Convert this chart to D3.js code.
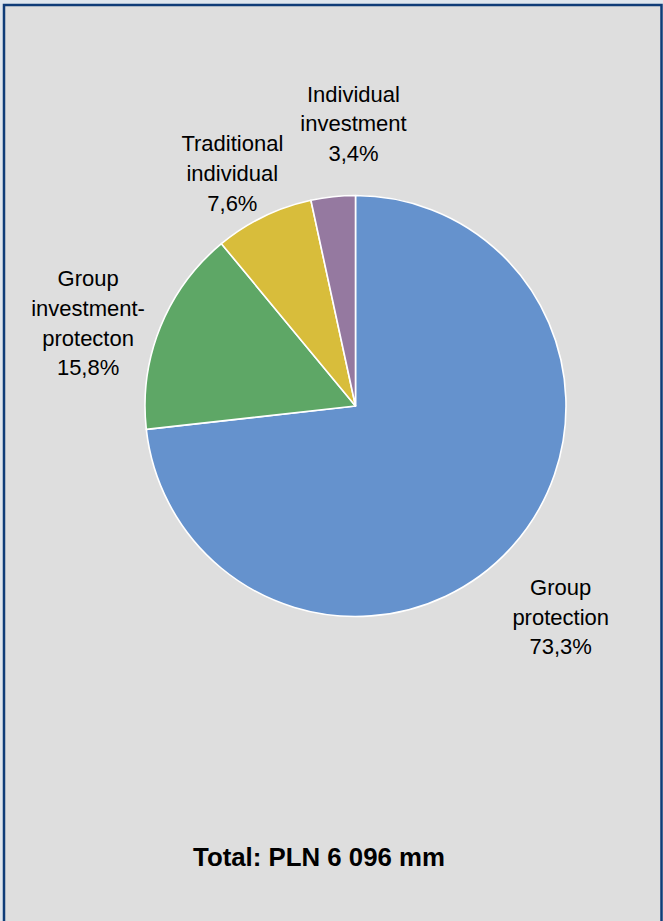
<!DOCTYPE html>
<html>
<head>
<meta charset="utf-8">
<script src="https://cdn.jsdelivr.net/npm/d3@7"></script>
<style>
  html, body { margin: 0; padding: 0; background: #dfe6ee; }
  svg { display: block; }
</style>
</head>
<body>
<svg id="chart" width="663" height="921"></svg>
<script>
// Life insurance gross written premium split by product line
const categories = [
  ["Group", "protection"],
  ["Group", "investment-", "protecton"],
  ["Traditional", "individual"],
  ["Individual", "investment"]
];
const shares = [73.3, 15.8, 7.6, 3.4];
const percentLabels = ["73,3%", "15,8%", "7,6%", "3,4%"];
const sliceColors = ["#6592cd", "#5ea766", "#d8bd3b", "#9579a0"];
const totalText = "Total: PLN 6 096 mm";

// label placement: radius along the slice's mid-angle plus a small nudge
const labelRadius = 282;
const labelNudge = [[-5, 23], [-6, 23], [0, 21], [28, -2]];

const W = 663, H = 921;
const cx = 355.5, cy = 406, r = 210.5;

const svg = d3.select("#chart");

// panel with blue frame (open at the bottom)
svg.append("rect")
  .attr("x", 0).attr("y", 0).attr("width", W).attr("height", H)
  .attr("fill", "#dfe6ee");
svg.append("rect")
  .attr("x", 4).attr("y", 5).attr("width", 657.5).attr("height", H + 20)
  .attr("fill", "#dedede")
  .attr("stroke", "#0f3c78").attr("stroke-width", 2.5);

const pie = d3.pie().sort(null).value(d => d)
  .startAngle(0).endAngle(2 * Math.PI);
const arcs = pie(shares);
const arc = d3.arc().innerRadius(0).outerRadius(r);

const g = svg.append("g").attr("transform", `translate(${cx},${cy})`);

g.selectAll("path.slice")
  .data(arcs)
  .join("path")
  .attr("class", "slice")
  .attr("d", arc)
  .attr("fill", (d, i) => sliceColors[i])
  .attr("stroke", "#ffffff")
  .attr("stroke-width", 1.6)
  .attr("stroke-linejoin", "round");

// outside labels: category lines followed by the percentage
const fontSize = 22;
const lineH = 29.7;
arcs.forEach((a, i) => {
  const mid = (a.startAngle + a.endAngle) / 2;
  const x = Math.sin(mid) * labelRadius + labelNudge[i][0];
  const y = -Math.cos(mid) * labelRadius + labelNudge[i][1];
  const lines = categories[i].concat([percentLabels[i]]);
  const n = lines.length;
  const t = g.append("text")
    .attr("text-anchor", "middle")
    .attr("font-family", "Liberation Sans, Arial, sans-serif")
    .attr("font-size", fontSize)
    .attr("fill", "#000");
  lines.forEach((s, k) => {
    t.append("tspan")
      .attr("x", x)
      .attr("y", y + (k - (n - 1) / 2) * lineH + 0.35 * fontSize)
      .text(s);
  });
});

svg.append("text")
  .attr("x", 319).attr("y", 866)
  .attr("text-anchor", "middle")
  .attr("font-family", "Liberation Sans, Arial, sans-serif")
  .attr("font-weight", "bold")
  .attr("font-size", 25.8)
  .attr("fill", "#000")
  .text(totalText);
</script>
</body>
</html>
